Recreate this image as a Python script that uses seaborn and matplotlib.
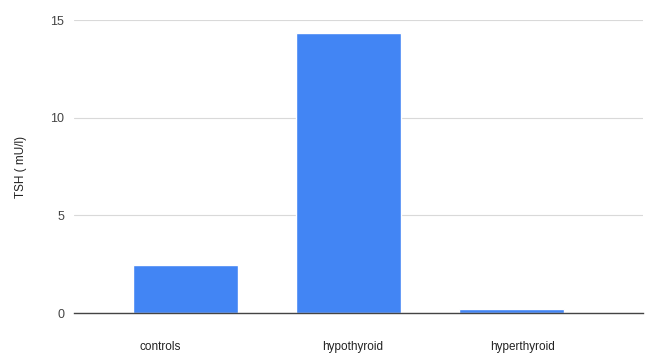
import pandas as pd
import matplotlib
matplotlib.use("Agg")
import matplotlib.pyplot as plt
import seaborn as sns

groups = ["controls", "hypothyroid", "hyperthyroid"]
tsh_values = [2.44, 14.33, 0.2]
y_ticks = [0, 5, 10, 15]


def plot_tsh(df, out_path):
    sns.set_style("white")
    plt.rcParams["font.family"] = ["Liberation Sans", "DejaVu Sans"]

    fig = plt.figure(figsize=(6.45, 3.54), dpi=100)
    ax = fig.add_axes([0.1147, 0.1158, 0.8823, 0.8277])

    sns.barplot(data=df, x="group", y="tsh", color="#4285f4", saturation=1,
                width=0.644, ax=ax, zorder=3)

    ax.set_xlim(-0.681, 2.807)
    ax.set_ylim(0, 15)
    ax.set_yticks(y_ticks)
    ax.set_yticklabels([str(t) for t in y_ticks])
    # category labels sit slightly off the bar centres in the original
    ax.set_xticks([-0.153, 1.028, 2.07])
    ax.set_xticklabels(groups)

    ax.grid(axis="y", color="#d9d9d9", linewidth=0.8, zorder=0)
    for side in ["top", "right", "left"]:
        ax.spines[side].set_visible(False)
    ax.spines["bottom"].set_color("#444444")
    ax.spines["bottom"].set_linewidth(1.0)
    ax.spines["bottom"].set_zorder(4)

    ax.tick_params(axis="x", length=0, pad=20, labelsize=8.5, labelcolor="#222222")
    ax.tick_params(axis="y", length=0, pad=7, labelsize=9, labelcolor="#444444")
    ax.set_xlabel("")
    ax.set_ylabel("TSH ( mU/l)", fontsize=8.5, color="#222222", labelpad=17)

    fig.savefig(out_path, dpi=100)
    plt.close(fig)


def main():
    df = pd.DataFrame({"group": groups, "tsh": tsh_values})
    plot_tsh(df, "out.png")


if __name__ == "__main__":
    main()
